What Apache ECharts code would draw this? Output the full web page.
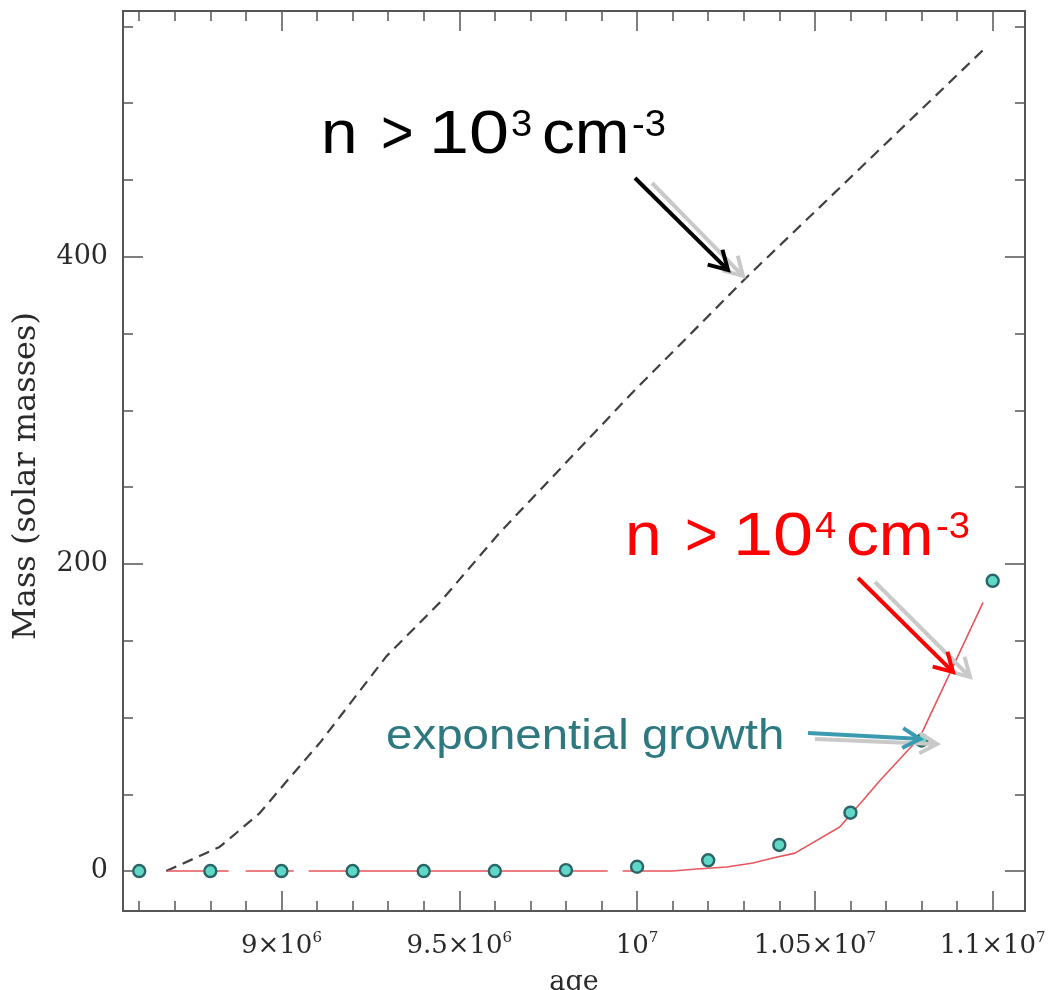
<!DOCTYPE html>
<html>
<head>
<meta charset="utf-8">
<script src="https://cdn.jsdelivr.net/npm/echarts@6/dist/echarts.min.js"></script>
<style>
  html, body { margin: 0; padding: 0; background: #fff; }
  #chart { width: 1053px; height: 990px; }
</style>
</head>
<body>
<div id="chart"></div>
<script>
// Clump sampled every 2×10^5 yr (filled circles)
const clumpAge  = [8.6e6, 8.8e6, 9.0e6, 9.2e6, 9.4e6, 9.6e6, 9.8e6, 1.0e7, 1.02e7, 1.04e7, 1.06e7, 1.08e7, 1.10e7];
const clumpMass = [0, 0, 0, 0, 0, 0, 0.6, 2.8, 7, 17, 38, 85, 189];

// Gas mass above n > 10^4 cm^-3 (red curve)
const denseAge  = [8.68e6, 1.01e7, 1.0168e7, 1.0252e7, 1.0326e7, 1.0382e7, 1.0444e7, 1.057e7, 1.0604e7, 1.0635e7, 1.0683e7, 1.0795e7, 1.0888e7, 1.0973e7];
const denseMass = [0, 0, 1.3, 2.6, 5.2, 8.5, 11.7, 28.7, 37.8, 46, 59, 87, 133, 175];

// Gas mass above n > 10^3 cm^-3 (dashed curve)
const diffuseAge  = [8.676e6, 8.826e6, 8.873e6, 8.939e6, 9.014e6, 9.108e6, 9.201e6, 9.295e6, 9.445e6, 9.614e6, 9.988e6, 1.0309e7, 1.0975e7];
const diffuseMass = [0, 15.7, 24.8, 37.8, 58.3, 83.5, 111.5, 139.8, 174.8, 220.4, 311.8, 386.8, 535];

// Axis ticks and labels
const xMajorTicks   = [9.0e6, 9.5e6, 1.0e7, 1.05e7, 1.1e7];
const xTickMantissa = ['9×10', '9.5×10', '10', '1.05×10', '1.1×10'];
const xTickExponent = ['6', '6', '7', '7', '7'];
const xMinorTicks   = [8.6e6, 8.7e6, 8.8e6, 8.9e6, 9.1e6, 9.2e6, 9.3e6, 9.4e6, 9.6e6, 9.7e6, 9.8e6, 9.9e6,
                       1.01e7, 1.02e7, 1.03e7, 1.04e7, 1.06e7, 1.07e7, 1.08e7, 1.09e7];
const yMajorTicks   = [0, 200, 400];
const yMinorTicks   = [50, 100, 150, 250, 300, 350, 450, 500, 550];

const X_MIN = 8.5544e6, X_MAX = 1.10909e7;
const Y_MIN = -26, Y_MAX = 560;

const AXIS_FONT = '"DejaVu Serif", "Liberation Serif", serif';
const TEXT_FONT = '"Liberation Sans", Arial, sans-serif';
const AXIS_INK = '#2a2a2a';
const TICK_STYLE = { color: '#555', width: 1.5 };

function pairs(xs, ys) { return xs.map((x, i) => [x, ys[i]]); }

function xAxisDef(position, ticks, len, labelled) {
  const ax = {
    type: 'value', position, min: X_MIN, max: X_MAX,
    axisLine: { show: false, onZero: false }, splitLine: { show: false },
    axisTick: { show: true, inside: true, length: len, customValues: ticks, lineStyle: TICK_STYLE },
    axisLabel: { show: false }
  };
  if (labelled) {
    ax.axisLabel = {
      show: true, customValues: xMajorTicks, margin: 20,
      formatter: (v) => {
        const i = xMajorTicks.findIndex(t => Math.abs(t - v) < 1);
        return i < 0 ? '' : '{b|' + xTickMantissa[i] + '}{s|' + xTickExponent[i] + '}';
      },
      rich: {
        b: { fontFamily: AXIS_FONT, fontSize: 26, color: AXIS_INK, lineHeight: 30 },
        s: { fontFamily: AXIS_FONT, fontSize: 15, color: AXIS_INK, lineHeight: 15, verticalAlign: 'top' }
      }
    };
    ax.name = 'age';
    ax.nameLocation = 'middle';
    ax.nameGap = 58;
    ax.nameTextStyle = { fontFamily: AXIS_FONT, fontSize: 27, color: AXIS_INK };
  }
  return ax;
}

function yAxisDef(position, ticks, len, labelled) {
  const ax = {
    type: 'value', position, min: Y_MIN, max: Y_MAX,
    axisLine: { show: false, onZero: false }, splitLine: { show: false },
    axisTick: { show: true, inside: true, length: len, customValues: ticks, lineStyle: TICK_STYLE },
    axisLabel: { show: false }
  };
  if (labelled) {
    ax.axisLabel = {
      show: true, customValues: yMajorTicks, margin: 15,
      fontFamily: AXIS_FONT, fontSize: 27, color: AXIS_INK
    };
    ax.name = 'Mass (solar masses)';
    ax.nameLocation = 'middle';
    ax.nameGap = 80;
    ax.nameTextStyle = { fontFamily: AXIS_FONT, fontSize: 32, color: AXIS_INK, padding: [0, 30, 0, 0] };
  }
  return ax;
}

// Open-headed arrow: shaft plus a chevron at the tip
function arrow(x1, y1, x2, y2, color, width, headLen, z) {
  const a = Math.atan2(y2 - y1, x2 - x1);
  const spread = Math.PI / 6;
  const w1 = [x2 - headLen * Math.cos(a - spread), y2 - headLen * Math.sin(a - spread)];
  const w2 = [x2 - headLen * Math.cos(a + spread), y2 - headLen * Math.sin(a + spread)];
  const sx = x2 - 3 * Math.cos(a), sy = y2 - 3 * Math.sin(a);
  return [
    { type: 'polyline', z, shape: { points: [[x1, y1], [sx, sy]] },
      style: { stroke: color, lineWidth: width, fill: null } },
    { type: 'polyline', z, shape: { points: [w1, [x2, y2], w2] },
      style: { stroke: color, lineWidth: width, fill: null, lineJoin: 'miter' } }
  ];
}

function word(x, y, text, size, color, sx) {
  return {
    type: 'text', x, y, scaleX: sx, z: 20,
    style: { text, x: 0, y: 0, fontFamily: TEXT_FONT, fontSize: size, fill: color,
             align: 'left', verticalAlign: 'middle', textAlign: 'left', textVerticalAlign: 'middle' }
  };
}

// "n > 10^k cm^-3" built from its pieces, starting at x0 with centre line y0
function densityLabel(x0, y0, power, color) {
  const S = 1.06;
  return [
    word(x0 - 2, y0, 'n', 62, color, S),
    word(x0 + 58, y0, '>', 62, color, 0.9),
    word(x0 + 106, y0, '10', 62, color, 1.16),
    word(x0 + 188, y0 - 10, power, 36, color, S),
    word(x0 + 219, y0, 'cm', 62, color, S),
    word(x0 + 309, y0 - 10, '-3', 36, color, S)
  ];
}

const graphics = [].concat(
  arrow(652, 183, 743, 276, '#c9c9c9', 4, 21, 10),
  arrow(635, 178, 728, 270, '#000000', 4, 21, 11),
  arrow(875, 582, 970, 677, '#c9c9c9', 4, 21, 10),
  arrow(858, 578, 953, 672, '#ff0000', 4, 21, 11),
  arrow(815, 739, 937, 744, '#c9c9c9', 4, 20, 10),
  arrow(808, 733, 920, 739, '#3a9bb0', 4, 20, 11),
  densityLabel(323, 136, '3', '#000000'),
  densityLabel(627, 538, '4', '#ff0000'),
  [word(386, 737, 'exponential growth', 42, '#2e7880', 1.13)]
);

const chart = echarts.init(document.getElementById('chart'), null, { renderer: 'canvas' });
chart.setOption({
  animation: false,
  backgroundColor: '#fff',
  grid: { left: 123, right: 28, top: 11, bottom: 79, containLabel: false, outerBoundsMode: 'none',
          show: true, borderColor: '#555', borderWidth: 2, backgroundColor: 'transparent' },
  xAxis: [
    xAxisDef('bottom', xMajorTicks, 20, true),
    xAxisDef('bottom', xMinorTicks, 10, false),
    xAxisDef('top', xMajorTicks, 20, false),
    xAxisDef('top', xMinorTicks, 10, false)
  ],
  yAxis: [
    yAxisDef('left', yMajorTicks, 20, true),
    yAxisDef('left', yMinorTicks, 10, false),
    yAxisDef('right', yMajorTicks, 20, false),
    yAxisDef('right', yMinorTicks, 10, false)
  ],
  series: [
    {
      name: 'n > 10^3 cm^-3', type: 'line', xAxisIndex: 0, yAxisIndex: 0,
      data: pairs(diffuseAge, diffuseMass), showSymbol: false, smooth: false,
      lineStyle: { color: '#404040', width: 2.2, type: [11, 7] }, z: 2
    },
    {
      name: 'n > 10^4 cm^-3', type: 'line', xAxisIndex: 0, yAxisIndex: 0,
      data: pairs(denseAge, denseMass), showSymbol: false, smooth: false,
      lineStyle: { color: '#e8565c', width: 1.6, type: [61, 17, 48, 15, 299, 15, 5000] }, z: 3
    },
    {
      name: 'clump', type: 'scatter', xAxisIndex: 0, yAxisIndex: 0,
      data: pairs(clumpAge, clumpMass), symbol: 'circle', symbolSize: 12,
      itemStyle: { color: '#5fd8c8', borderColor: '#2a6466', borderWidth: 2.4, opacity: 1 }, z: 4
    }
  ],
  graphic: graphics
});
</script>
</body>
</html>
